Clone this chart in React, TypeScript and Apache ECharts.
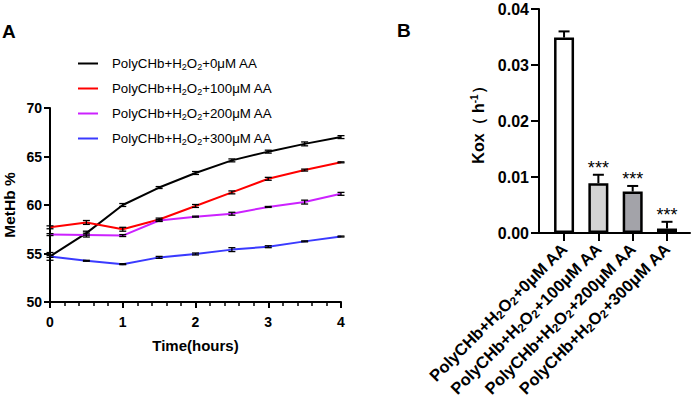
import React, { useEffect, useRef } from "react";
import * as echarts from "echarts";

const FONT = "'Liberation Sans', Arial, sans-serif";

// Panel A data
const timePoints = [0, 0.5, 1, 1.5, 2, 2.5, 3, 3.5, 4];
const seriesNames = [
  "PolyCHb+H2O2+0μM AA",
  "PolyCHb+H2O2+100μM AA",
  "PolyCHb+H2O2+200μM AA",
  "PolyCHb+H2O2+300μM AA",
];
const seriesColors = ["#000000", "#ff0000", "#cc22ff", "#3a3aff"];
const aa0 = [54.7, 57.1, 60.0, 61.8, 63.3, 64.6, 65.5, 66.3, 67.0];
const aa100 = [57.7, 58.2, 57.5, 58.5, 59.9, 61.3, 62.7, 63.6, 64.4];
const aa200 = [56.95, 56.9, 56.85, 58.4, 58.8, 59.1, 59.8, 60.3, 61.15];
const aa300 = [54.7, 54.25, 53.9, 54.6, 54.95, 55.4, 55.7, 56.25, 56.75];
const aa0Err = [0.4, 0.2, 0.15, 0.1, 0.15, 0.15, 0.15, 0.2, 0.15];
const aa100Err = [0.15, 0.2, 0.2, 0.15, 0.15, 0.15, 0.15, 0.1, 0.05];
const aa200Err = [0.1, 0.2, 0.1, 0.1, 0.05, 0.15, 0.05, 0.2, 0.15];
const aa300Err = [0.1, 0.05, 0.05, 0.1, 0.1, 0.2, 0.1, 0.05, 0.05];
const yTicksA = [50, 55, 60, 65, 70];
const xTicksA = [0, 1, 2, 3, 4];

// Panel B data
const barCategories = seriesNames;
const barPositions = [0, 1, 2, 3];
const koxValues = [0.0349, 0.0089, 0.0074, 0.0008];
const koxErrors = [0.0011, 0.0015, 0.001, 0.0012];
const koxStars = ["", "***", "***", "***"];
const barColors = ["#ffffff", "#d4d4d4", "#a3a3a9", "#3a3a3a"];
const yTicksB = [0, 0.01, 0.02, 0.03, 0.04];

const richName = (name: string, base: string, sub: string) => {
  const m = name.match(/^(.*)H2O2(.*)$/);
  if (!m) return `{${base}|${name}}`;
  return `{${base}|${m[1]}H}{${sub}|2}{${base}|O}{${sub}|2}{${base}|${m[2]}}`;
};

export default function App() {
  const ref = useRef<HTMLDivElement>(null);
  useEffect(() => {
    document.body.style.margin = "0";
    if (!ref.current) return;
    const chart = echarts.init(ref.current, null, { renderer: "svg" });

    const lineData = [aa0, aa100, aa200, aa300];
    const errData = [aa0Err, aa100Err, aa200Err, aa300Err];

    const makeErrorBarA = (si: number) => (params: any, api: any) => {
      const j = params.dataIndex;
      const x = timePoints[j];
      const y = lineData[si][j];
      const e = errData[si][j];
      const top = api.coord([x, y + e]);
      const bot = api.coord([x, y - e]);
      const hw = 3.5;
      const style = { stroke: "#000", lineWidth: 1.3 };
      return {
        type: "group",
        children: [
          { type: "line", shape: { x1: top[0], y1: top[1], x2: bot[0], y2: bot[1] }, style },
          { type: "line", shape: { x1: top[0] - hw, y1: top[1], x2: top[0] + hw, y2: top[1] }, style },
          { type: "line", shape: { x1: bot[0] - hw, y1: bot[1], x2: bot[0] + hw, y2: bot[1] }, style },
        ],
      };
    };

    const errorBarB = (params: any, api: any) => {
      const i = params.dataIndex;
      const x = barPositions[i];
      const y = koxValues[i];
      const e = koxErrors[i];
      const base = api.coord([x, y]);
      const top = api.coord([x, y + e]);
      const hw = 5.5;
      const style = { stroke: "#000", lineWidth: 2 };
      const star = koxStars[i];
      const children: any[] = [
        { type: "line", shape: { x1: base[0], y1: base[1], x2: top[0], y2: top[1] }, style },
        { type: "line", shape: { x1: top[0] - hw, y1: top[1], x2: top[0] + hw, y2: top[1] }, style },
      ];
      if (star) {
        children.push({
          type: "text",
          x: top[0],
          y: top[1] + 2,
          style: {
            text: star,
            fontSize: 18,
            fontFamily: FONT,
            fill: "#000",
            align: "center",
            verticalAlign: "bottom",
          },
        });
      }
      return { type: "group", children };
    };

    const richLegend = {
      a: { fontSize: 13.3, fontFamily: FONT, color: "#000", lineHeight: 15 },
      s: { fontSize: 9, fontFamily: FONT, color: "#000", lineHeight: 8, verticalAlign: "bottom" },
    };
    const richBarLabel = {
      a: { fontSize: 16.5, fontWeight: "bold", fontFamily: FONT, color: "#000", lineHeight: 19 },
      s: { fontSize: 11.5, fontWeight: "bold", fontFamily: FONT, color: "#000", lineHeight: 11, verticalAlign: "bottom" },
    };

    const option: any = {
      animation: false,
      textStyle: { fontFamily: FONT },
      graphic: [
        { type: "text", left: 2, top: 22, style: { text: "A", fontSize: 19, fontWeight: "bold", fontFamily: FONT, fill: "#000" } },
        { type: "text", left: 397, top: 21, style: { text: "B", fontSize: 19, fontWeight: "bold", fontFamily: FONT, fill: "#000" } },
      ],
      legend: {
        orient: "vertical",
        left: 78,
        top: 57,
        padding: 0,
        icon: "rect",
        itemWidth: 20,
        itemHeight: 2,
        itemGap: 11,
        data: seriesNames,
        formatter: (name: string) => richName(name, "a", "s"),
        textStyle: { padding: [0, 0, 0, 9], rich: richLegend },
      },
      grid: [
        { left: 50, top: 108, width: 291, height: 194 },
        { left: 539, top: 9, width: 151, height: 224 },
      ],
      xAxis: [
        {
          type: "value",
          gridIndex: 0,
          min: 0,
          max: 4,
          interval: 1,
          name: "Time(hours)",
          nameLocation: "middle",
          nameGap: 36,
          nameTextStyle: { fontSize: 15, fontWeight: "bold", color: "#000", fontFamily: FONT, verticalAlign: "top" },
          axisLine: { onZero: false, lineStyle: { color: "#000", width: 2 } },
          axisTick: { show: true, length: 6, lineStyle: { color: "#000", width: 2 } },
          minorTick: { show: true, splitNumber: 5, length: 4, lineStyle: { color: "#000", width: 1.5 } },
          axisLabel: {
            fontSize: 14,
            fontWeight: "bold",
            color: "#000",
            margin: 13,
            customValues: xTicksA,
          },
          splitLine: { show: false },
        },
        {
          type: "value",
          gridIndex: 1,
          min: -0.73,
          max: 3.67,
          axisLine: { onZero: false, lineStyle: { color: "#000", width: 2 } },
          axisTick: { show: true, length: 8, customValues: barPositions, lineStyle: { color: "#000", width: 2 } },
          axisLabel: {
            customValues: barPositions,
            rotate: 45,
            margin: 13,
            formatter: (v: number) => richName(barCategories[Math.round(v)], "a", "s"),
            rich: richBarLabel,
          },
          splitLine: { show: false },
        },
      ],
      yAxis: [
        {
          type: "value",
          gridIndex: 0,
          min: 50,
          max: 70,
          interval: 5,
          name: "MetHb %",
          nameLocation: "middle",
          nameRotate: 90,
          nameGap: 33,
          nameTextStyle: { fontSize: 15.5, fontWeight: "bold", color: "#000", fontFamily: FONT },
          axisLine: { show: true, onZero: false, lineStyle: { color: "#000", width: 2 } },
          axisTick: { show: true, length: 6, lineStyle: { color: "#000", width: 2 } },
          axisLabel: { fontSize: 14, fontWeight: "bold", color: "#000", margin: 8, customValues: yTicksA },
          splitLine: { show: false },
        },
        {
          type: "value",
          gridIndex: 1,
          min: 0,
          max: 0.04,
          interval: 0.01,
          name: "{a|Kox（ h}{sup|-1}{a|）}",
          nameLocation: "middle",
          nameRotate: 90,
          nameGap: 52,
          nameTextStyle: {
            rich: {
              a: { fontSize: 16, fontWeight: "bold", color: "#000", fontFamily: FONT, lineHeight: 18 },
              sup: { fontSize: 10, fontWeight: "bold", color: "#000", fontFamily: FONT, lineHeight: 10, verticalAlign: "top" },
            },
          },
          axisLine: { show: true, onZero: false, lineStyle: { color: "#000", width: 2 } },
          axisTick: { show: true, length: 8, lineStyle: { color: "#000", width: 2 } },
          axisLabel: {
            fontSize: 16,
            fontWeight: "bold",
            color: "#000",
            margin: 10,
            customValues: yTicksB,
            formatter: (v: number) => v.toFixed(2),
          },
          splitLine: { show: false },
        },
      ],
      series: [
        ...lineData.map((d, i) => ({
          type: "line",
          name: seriesNames[i],
          xAxisIndex: 0,
          yAxisIndex: 0,
          symbol: "none",
          data: timePoints.map((t, j) => [t, d[j]]),
          lineStyle: { color: seriesColors[i], width: 2 },
          itemStyle: { color: seriesColors[i] },
          z: 2,
        })),
        ...lineData.map((d, i) => ({
          type: "custom",
          name: seriesNames[i] + " err",
          xAxisIndex: 0,
          yAxisIndex: 0,
          renderItem: makeErrorBarA(i),
          data: timePoints.map((t, j) => [t, d[j]]),
          z: 3,
        })),
        {
          type: "bar",
          name: "Kox",
          xAxisIndex: 1,
          yAxisIndex: 1,
          barWidth: 20,
          data: koxValues.map((v, i) => ({
            value: [barPositions[i], v],
            itemStyle: { color: barColors[i], borderColor: "#000", borderWidth: 2.5 },
          })),
          z: 2,
        },
        {
          type: "custom",
          name: "Kox err",
          xAxisIndex: 1,
          yAxisIndex: 1,
          renderItem: errorBarB,
          data: koxValues.map((v, i) => [barPositions[i], v]),
          z: 3,
        },
      ],
    };
    chart.setOption(option);
    return () => chart.dispose();
  }, []);
  return <div ref={ref} style={{ width: 692, height: 409 }} />;
}
